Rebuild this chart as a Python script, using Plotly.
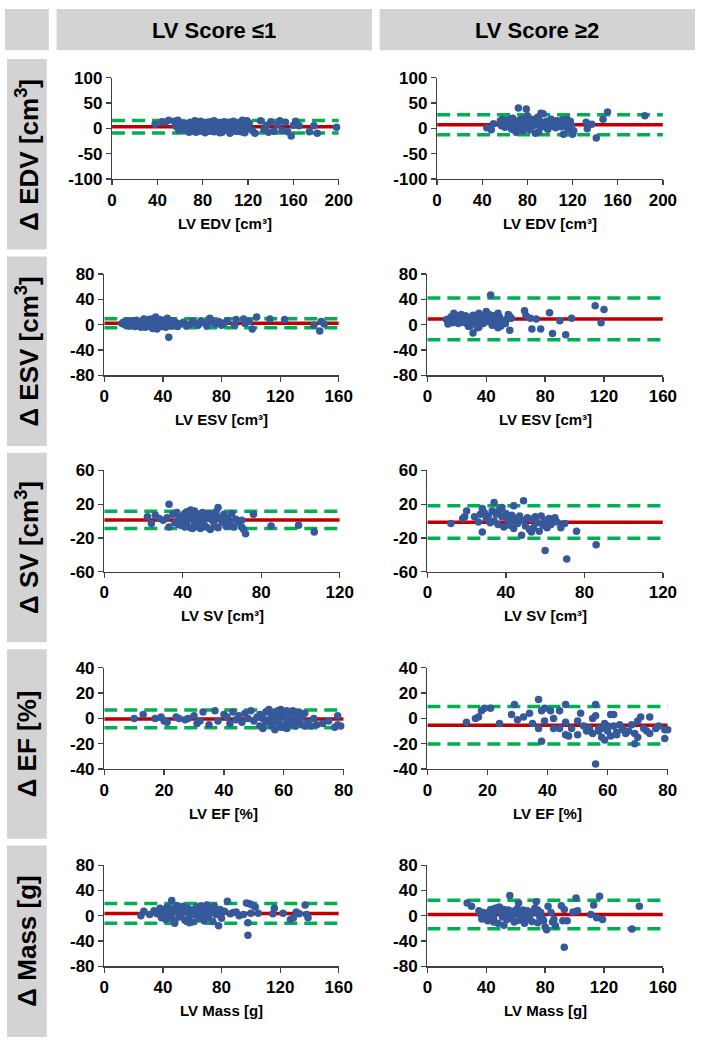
import plotly.graph_objects as go

# ---------------- data ----------------
col_headers = ["LV Score ≤1", "LV Score ≥2"]
row_labels = ["Δ EDV [cm<sup>3</sup>]", "Δ ESV [cm<sup>3</sup>]", "Δ SV [cm<sup>3</sup>]", "Δ EF [%]", "Δ Mass [g]"]
x_titles = ["LV EDV [cm³]", "LV ESV [cm³]", "LV SV [cm³]", "LV EF [%]", "LV Mass [g]"]
x_max = [200, 160, 120, 80, 160]
x_step = [40, 40, 40, 20, 40]
y_ticks = [[-100, -50, 0, 50, 100], [-80, -40, 0, 40, 80], [-60, -20, 20, 60], [-40, -20, 0, 20, 40], [-80, -40, 0, 40, 80]]
y_range = [[-100, 100], [-80, 80], [-60, 60], [-40, 40], [-80, 80]]

# mean difference and limits of agreement [mean, upper, lower]
edv_lo_stats = [3, 15.5, -9.5]
edv_hi_stats = [7, 27, -13]
esv_lo_stats = [2.3, 9.5, -5]
esv_hi_stats = [9, 42, -24]
sv_lo_stats = [1.3, 11.5, -9]
sv_hi_stats = [-1.3, 18, -20.5]
ef_lo_stats = [-0.4, 6.7, -7.5]
ef_hi_stats = [-5.4, 9.5, -20.3]
mass_lo_stats = [3.6, 19.5, -12]
mass_hi_stats = [2, 24.5, -20.5]

edv_lo_x = [38, 44, 47, 50, 55, 57, 58, 60, 62, 63,
            64, 65, 66, 67, 68, 69, 70, 71, 72, 73,
            74, 75, 75, 76, 77, 78, 78, 79, 80, 81,
            82, 83, 84, 85, 85, 86, 87, 88, 89, 90,
            90, 91, 92, 93, 94, 95, 96, 97, 98, 99,
            100, 101, 102, 103, 104, 105, 106, 107, 108, 110,
            111, 112, 113, 114, 115, 116, 117, 118, 119, 120,
            121, 124, 126, 131, 134, 136, 138, 140, 143, 146,
            148, 150, 153, 155, 158, 160, 162, 165, 174, 178,
            181, 198,
            56, 59, 61, 65, 68, 72, 74, 76, 79, 83,
            86, 88, 92, 95, 97, 101, 105, 109, 113, 117]
edv_lo_y = [8, 13, 12, 16, 14, 3, 16, 5, -2, 8,
            4, 10, -5, 6, 2, 12, -3, 9, 0, 15,
            -8, 5, 11, -6, 3, 14, -2, 7, 0, 10,
            -9, 4, 12, -5, 8, 1, 13, -3, 6, -7,
            15, 2, -1, 9, -4, 11, 5, -8, 3, 13,
            -2, 7, 0, 12, -10, 6, -4, 14, 2, -6,
            9, -1, 11, -7, 16, 3, -9, 8, 15, 0,
            10, -5, -10, 15, -3, 6, -8, 13, -6, 8,
            15, -4, 12, -7, -15, 6, 14, 5, -7, 5,
            -10, 2,
            5, -4, 9, 1, -8, 4, 8, -3, 12, 2,
            -6, 9, 4, -9, 1, -3, 10, -2, 5, -8]

edv_hi_x = [44, 48, 50, 56, 57, 58, 59, 60, 61, 62,
            63, 64, 65, 66, 67, 68, 69, 70, 71, 72,
            72, 73, 74, 75, 76, 77, 78, 79, 79, 80,
            81, 82, 83, 84, 85, 86, 87, 88, 89, 90,
            91, 92, 93, 94, 95, 96, 97, 98, 100, 101,
            102, 103, 104, 105, 106, 107, 108, 110, 111, 112,
            113, 114, 115, 116, 117, 118, 119, 120, 121, 132,
            133, 137, 141, 147, 151, 184]
edv_hi_y = [1, -3, 9, 15, 5, 18, 10, 2, 14, 8,
            17, 4, 12, -2, 20, 7, 14, -8, 10, 40,
            3, 16, 6, 19, -5, 12, 1, 38, 8, 25,
            14, -3, 10, 18, 5, 12, -10, 7, 22, -7,
            15, 30, 3, 29, 11, 6, 14, -2, 9, 18,
            4, 12, 8, 1, 15, 6, 10, 3, 17, -12,
            12, 5, 18, -2, 8, 14, 6, -12, -5, 12,
            -1, 8, -19, 18, 32, 25]

esv_lo_x = [12, 13, 14, 15, 16, 17, 18, 19, 20, 21,
            22, 23, 24, 25, 26, 27, 28, 29, 30, 31,
            32, 33, 34, 35, 35, 36, 37, 38, 39, 40,
            41, 42, 43, 44, 44, 45, 46, 47, 48, 49,
            50, 52, 54, 56, 58, 60, 62, 64, 66, 68,
            70, 72, 74, 76, 78, 80, 82, 84, 89, 90,
            95, 96, 99, 101, 104, 113, 123, 143, 147, 148,
            150, 16, 20, 25, 30, 33, 38, 42, 27, 36]
esv_lo_y = [2, 4, 0, 6, 3, -2, 5, 1, 4, -3,
            7, 2, -1, 5, 0, 8, -4, 3, 6, -2,
            9, 1, 4, 12, -5, 6, 0, 8, -3, 3,
            7, -1, 10, 2, -20, 5, -2, 6, 0, 3,
            -3, 1, 4, -2, 0, 5, 2, -1, 6, 3,
            -2, 10, 4, 1, 5, -1, 3, 6, -1, 8,
            9, 2, 5, -7, 12, 9, 8, -1, -10, 5,
            1, -1, 6, -4, 8, -6, 3, -4, 9, -7]

esv_hi_x = [13, 14, 15, 16, 17, 18, 18, 19, 20, 21,
            22, 23, 24, 25, 26, 27, 28, 29, 30, 31,
            31, 32, 33, 34, 35, 35, 36, 37, 38, 39,
            40, 41, 42, 43, 43, 44, 45, 46, 47, 48,
            48, 49, 50, 53, 54, 55, 56, 56, 57, 66,
            67, 70, 71, 74, 77, 83, 85, 90, 94, 98,
            114, 118, 120, 22, 28, 34, 45, 50]
esv_hi_y = [8, 1, 5, 12, 3, 18, 9, 6, 14, 2,
            10, 16, 4, 8, 14, 1, 11, -2, 7, 15,
            -13, 3, 12, 6, 18, -4, 9, 13, 2, 11,
            21, 5, 16, 47, 7, -1, 14, 3, 10, 18,
            -5, 12, 6, 2, 9, 16, -9, 13, 10, 22,
            14, 10, -7, 9, -7, 19, -14, 6, -16, 10,
            30, 3, 24, 5, -3, -5, 0, -2]

sv_lo_x = [22, 24, 26, 28, 30, 32, 33, 33, 35, 36,
           37, 38, 39, 40, 40, 41, 42, 42, 43, 44,
           44, 45, 46, 46, 47, 47, 48, 49, 49, 50,
           50, 51, 52, 52, 53, 54, 55, 55, 56, 57,
           58, 58, 59, 60, 61, 62, 63, 64, 65, 66,
           67, 68, 70, 70, 71, 72, 76, 85, 99, 107,
           38, 41, 45, 48, 51, 54, 57, 60, 63, 44]
sv_lo_y = [5, -3, 7, 3, 1, 4, 20, -7, 8, -2,
           10, 3, -5, 6, 0, 9, -4, 11, 2, -8,
           5, 7, -3, 12, 1, -6, 8, 4, -9, 10,
           -2, 6, 3, -7, 9, -10, 1, 5, -4, 7,
           16, -8, 3, -1, 8, -6, 4, -3, 9, -7,
           2, -1, 1, -7, -10, -15, 8, -6, -5, -13,
           -4, -7, -9, 0, -5, 8, 11, 2, -6, 13]

sv_hi_x = [12, 18, 19, 20, 24, 26, 27, 28, 28, 29,
           30, 31, 32, 33, 34, 34, 35, 36, 37, 38,
           38, 39, 40, 41, 42, 43, 44, 44, 45, 46,
           47, 48, 48, 49, 50, 51, 52, 53, 54, 55,
           56, 57, 58, 59, 60, 60, 61, 62, 63, 64,
           65, 66, 68, 70, 71, 76, 86, 36, 42, 53]
sv_hi_y = [-3, 3, 5, 12, 5, -1, 8, 15, -13, 10,
           3, 6, -2, 12, 22, 0, 8, -4, 14, 5,
           16, -7, 9, 2, -5, 7, 18, -9, 3, -3,
           6, -17, 1, 24, -6, 4, -10, 2, -8, 5,
           -2, -12, 6, -5, 1, -35, -8, 3, -4, 2,
           4, -1, -8, -3, -45, -12, -28, 11, -2, -13]

ef_lo_x = [10, 13, 17, 19, 20, 21, 24, 25, 27, 28,
           30, 31, 32, 33, 35, 37, 38, 40, 41, 42,
           43, 44, 45, 46, 47, 48, 49, 50, 51, 52,
           52, 53, 54, 54, 55, 55, 56, 56, 57, 57,
           58, 58, 58, 59, 59, 59, 60, 60, 60, 61,
           61, 62, 62, 63, 63, 64, 64, 65, 65, 66,
           66, 67, 68, 69, 70, 71, 73, 75, 77, 78,
           78, 79, 53, 56, 57, 59, 61, 62, 64, 67]
ef_lo_y = [0, 3, 0, 1, -2, -3, 1, 0, -1, 0,
           2, -4, -2, 5, -5, 6, -2, 3, 1, -4,
           5, -1, 2, -3, 4, 0, 6, -2, 1, -6,
           3, -8, 5, -3, 7, -1, 2, -6, 4, -9,
           6, -2, 0, 7, -5, 3, -7, 1, 5, -3,
           -8, 4, -1, 6, -4, 2, -6, 5, -2, -5,
           1, 4, -3, -6, 0, -5, -4, -2, -7, 2,
           -5, -6, 0, 3, -3, -7, 6, -4, 2, -6]

ef_hi_x = [13, 16, 17, 18, 19, 21, 24, 28, 29, 30,
           32, 34, 35, 37, 37, 38, 38, 39, 39, 41,
           42, 42, 44, 44, 46, 46, 46, 47, 48, 50,
           50, 51, 52, 53, 54, 55, 56, 56, 56, 57,
           58, 58, 59, 60, 61, 62, 62, 63, 64, 65,
           66, 67, 68, 69, 69, 70, 70, 71, 72, 73,
           74, 74, 76, 77, 79, 79, 80, 55, 57, 60,
           63, 65, 59, 61]
ef_hi_y = [-3, 0, 1, 6, 8, 8, -4, 3, 11, -1,
           1, 4, -4, 15, -8, -18, 6, 8, -2, 6,
           0, -8, 6, -8, -3, 11, -13, -14, -8, -2,
           -13, 4, -6, -10, -8, 0, -36, 11, 2, -10,
           -8, -15, -17, -10, 3, -6, 3, -13, -5, -8,
           -12, -10, -5, -20, -12, -15, -2, 1, -8, -10,
           1, -12, -8, -6, -16, -9, -9, -12, -8, -6,
           -11, -9, -4, -14]

mass_lo_x = [25, 27, 31, 34, 36, 38, 39, 40, 41, 42,
             43, 44, 45, 46, 46, 47, 48, 49, 50, 51,
             52, 53, 54, 55, 56, 57, 58, 59, 60, 61,
             62, 63, 64, 65, 66, 67, 68, 69, 70, 71,
             72, 73, 74, 75, 76, 77, 78, 78, 79, 80,
             82, 84, 86, 88, 90, 92, 95, 97, 98, 98,
             99, 100, 101, 103, 105, 115, 116, 122, 127, 129,
             131, 133, 137, 138, 139, 48, 52, 58, 64, 70]
mass_lo_y = [0, 7, 2, 8, 3, 12, -3, 10, 5, -6,
             14, 1, 8, 24, -4, 11, -12, 6, 16, -2,
             9, 3, 15, -7, 7, 12, -1, 5, -10, 10,
             2, 14, -5, 8, 16, 0, -8, 11, 4, -3,
             13, 6, -9, 15, 2, 8, -16, 4, 10, -4,
             7, 23, 3, 5, 6, 0, 2, 20, -11, -31,
             19, 4, 17, 14, 4, 3, 12, 4, -6, -3,
             6, 3, 17, 2, -3, -9, 12, -11, 6, 17]

mass_hi_x = [27, 30, 35, 36, 37, 38, 40, 41, 42, 43,
             44, 45, 46, 47, 48, 49, 50, 51, 52, 52,
             53, 54, 55, 56, 56, 57, 58, 59, 60, 61,
             62, 62, 63, 64, 65, 66, 67, 68, 69, 70,
             71, 72, 73, 74, 75, 76, 77, 78, 79, 80,
             81, 82, 84, 85, 86, 87, 91, 92, 93, 93,
             95, 99, 101, 102, 111, 113, 115, 117, 119, 139,
             144, 45, 55, 65, 75, 48]
mass_hi_y = [20, 15, 8, 3, -5, 5, 0, -8, 6, 10,
             2, -3, 12, 8, -12, 14, 6, -2, 10, -15,
             4, -6, 9, 32, 1, -4, 7, -10, 3, 11,
             20, -7, 5, -2, 9, -12, 4, 8, -5, 2,
             -9, 6, 12, 22, -11, 0, 5, -3, -8, -18,
             -22, 15, 5, -10, -6, -16, 16, -8, 10, -50,
             -8, 6, 28, 8, 2, 17, -3, 31, -6, -21,
             15, -10, 0, -4, 9, 13]

panels = [
    [(edv_lo_x, edv_lo_y, edv_lo_stats), (edv_hi_x, edv_hi_y, edv_hi_stats)],
    [(esv_lo_x, esv_lo_y, esv_lo_stats), (esv_hi_x, esv_hi_y, esv_hi_stats)],
    [(sv_lo_x, sv_lo_y, sv_lo_stats), (sv_hi_x, sv_hi_y, sv_hi_stats)],
    [(ef_lo_x, ef_lo_y, ef_lo_stats), (ef_hi_x, ef_hi_y, ef_hi_stats)],
    [(mass_lo_x, mass_lo_y, mass_lo_stats), (mass_hi_x, mass_hi_y, mass_hi_stats)],
]

# ---------------- layout geometry (pixels of the 709x1047 reference) ----------------
W, H = 709, 1047
col_x_px = [
    [(110, 343), (102, 343), (102, 344), (102, 348), (102, 343)],
    [(444, 676), (434, 676), (434, 676), (434, 681), (434, 676)],
]
row_y_px = [(70, 173), (270, 373), (470, 573), (671, 774), (872, 975)]
row_box_px = [(51, 245), (252, 445), (452, 645), (652, 845), (852, 1047)]
head_box_px = [(0, 45), (53, 377), (385, 709)]

BLUE = "#35599A"
RED = "#C00000"
GREEN = "#00B050"
GREY = "#D3D3D3"
AX = "#404040"
FONT = "Liberation Sans, Arial, sans-serif"


def px_x(p):
    return p / W


def px_y(p):
    return 1 - p / H


def bold_labels(vals):
    return [f"<b>{v}</b>" for v in vals]


fig = go.Figure()
layout = dict(
    autosize=True, margin=dict(l=0, r=0, t=0, b=0, pad=0),
    paper_bgcolor="white", plot_bgcolor="white", showlegend=False,
    font=dict(family=FONT, color="black"),
)
shapes = []
annotations = []

k = 0
for r in range(5):
    for c in range(2):
        k += 1
        xs, ys, st = panels[r][c]
        xn = "x" if k == 1 else f"x{k}"
        yn = "y" if k == 1 else f"y{k}"
        xa = "xaxis" if k == 1 else f"xaxis{k}"
        ya = "yaxis" if k == 1 else f"yaxis{k}"
        x0, x1 = col_x_px[c][r]
        y0, y1 = row_y_px[r]
        mean, up, lo = st
        xm = x_max[r]
        for val, colr, dash in [(up, GREEN, "13px,7px"), (lo, GREEN, "13px,7px"), (mean, RED, "solid")]:
            fig.add_trace(go.Scatter(x=[0, xm], y=[val, val], mode="lines", xaxis=xn, yaxis=yn,
                                     line=dict(color=colr, width=3.5, dash=dash), hoverinfo="skip"))
        fig.add_trace(go.Scatter(x=xs, y=ys, mode="markers", xaxis=xn, yaxis=yn,
                                 marker=dict(color=BLUE, size=7.5, line=dict(width=0)),
                                 cliponaxis=False))
        xt = list(range(0, xm + 1, x_step[r]))
        layout[xa] = dict(
            domain=[px_x(x0), px_x(x1)], anchor=yn, range=[0, xm],
            tickvals=xt, ticktext=bold_labels(xt),
            showgrid=False, zeroline=False, showline=True, linecolor=AX, linewidth=1.3,
            ticks="outside", ticklen=5, tickcolor=AX, tickwidth=1.3,
            tickfont=dict(family=FONT, size=17, color="black"),
        )
        layout[ya] = dict(
            domain=[px_y(y1), px_y(y0)], anchor=xn, range=y_range[r],
            tickvals=y_ticks[r], ticktext=bold_labels(y_ticks[r]),
            showgrid=False, zeroline=False, showline=True, linecolor=AX, linewidth=1.3,
            ticks="outside", ticklen=5, tickcolor=AX, tickwidth=1.3,
            tickfont=dict(family=FONT, size=17, color="black"),
        )
        annotations.append(dict(
            text=f"<b>{x_titles[r]}</b>", xref="paper", yref="paper",
            x=px_x((x0 + x1) / 2), y=px_y(y1 + 45), xanchor="center", yanchor="middle",
            showarrow=False, font=dict(family=FONT, size=15, color="black"),
        ))

# header boxes
for i, (a, b) in enumerate(head_box_px):
    shapes.append(dict(type="rect", xref="paper", yref="paper", x0=px_x(a), x1=px_x(b),
                       y0=px_y(42), y1=px_y(0), fillcolor=GREY, line=dict(width=0), layer="below"))
    if i > 0:
        annotations.append(dict(text=f"<b>{col_headers[i - 1]}</b>", xref="paper", yref="paper",
                                x=px_x((a + b) / 2), y=px_y(22), xanchor="center", yanchor="middle",
                                showarrow=False, font=dict(family=FONT, size=22, color="black")))

# row label boxes
for r, (a, b) in enumerate(row_box_px):
    shapes.append(dict(type="rect", xref="paper", yref="paper", x0=px_x(2), x1=px_x(43),
                       y0=px_y(b), y1=px_y(a), fillcolor=GREY, line=dict(width=0), layer="below"))
    annotations.append(dict(text=f"<b>{row_labels[r]}</b>", xref="paper", yref="paper",
                            x=px_x(23), y=px_y((a + b) / 2), xanchor="center", yanchor="middle",
                            textangle=-90, showarrow=False,
                            font=dict(family=FONT, size=26, color="black")))

layout["shapes"] = shapes
layout["annotations"] = annotations
fig.update_layout(**layout)
fig.write_html(
    "out.html",
    default_width="100vw",
    default_height="100vh",
    config={"displayModeBar": False, "staticPlot": True, "responsive": True},
    post_script=(
        "document.documentElement.style.margin='0';document.documentElement.style.padding='0';"
        "document.documentElement.style.overflow='hidden';"
        "document.body.style.margin='0';document.body.style.padding='0';"
        "document.body.style.overflow='hidden';"
        "var g=document.getElementById('{plot_id}');g.style.position='fixed';g.style.left='0px';g.style.top='0px';"
        "Plotly.Plots.resize(g);"
    ),
)
